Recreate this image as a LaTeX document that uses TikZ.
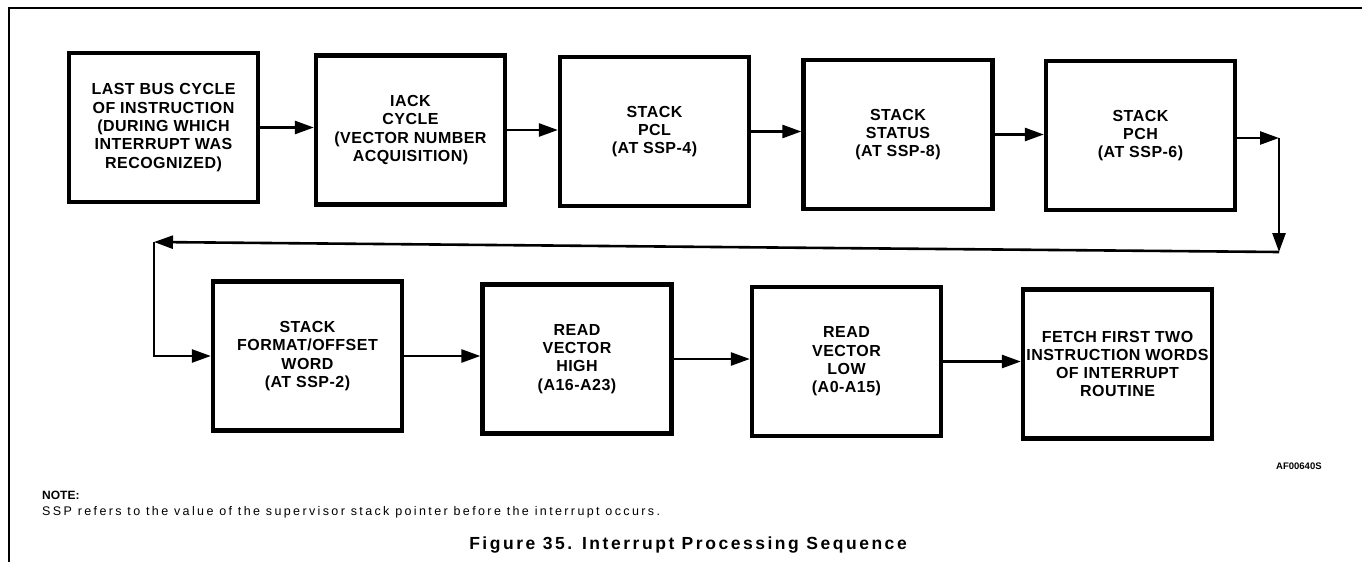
\documentclass[tikz,border=0pt]{standalone}
\usepackage{fontspec}
\setmainfont{Liberation Sans}
\newfontfamily\boxfont{Liberation Sans}[LetterSpace=3]
\newfontfamily\notefont{Liberation Sans}[LetterSpace=19]
\newfontfamily\titlefont{Liberation Sans}[LetterSpace=14.5]
\usetikzlibrary{arrows.meta}
\tikzset{
  stepbox/.style={draw, line width=4.3pt, minimum width=189pt, minimum height=149pt,
    inner sep=0pt, align=center, font=\boxfont\bfseries\fontsize{16}{18.3}\selectfont},
  arr/.style={line width=2.6pt, -{Triangle[length=19pt,width=13pt]}},
  frameline/.style={line width=1.4pt},
}
\begin{document}
\begin{tikzpicture}[x=1pt,y=-1pt]
\useasboundingbox[fill=white] (0,0) rectangle (1362,562);
% frame
\coordinate (ftl) at (9,8);
\coordinate (ftr) at (1362,8);
\coordinate (fbl) at (9,562);
\draw[frameline] (ftr) -- (ftl) -- (fbl);
% row 1
\node[stepbox] (b1) at (163.5,127.5) {LAST BUS CYCLE\\OF INSTRUCTION\\(DURING WHICH\\INTERRUPT WAS\\RECOGNIZED)};
\node[stepbox] (b2) at (410.5,130) {IACK\\CYCLE\\(VECTOR NUMBER\\ACQUISITION)};
\node[stepbox] (b3) at (654.5,131.5) {STACK\\PCL\\(AT SSP-4)};
\node[stepbox] (b4) at (898,134.5) {STACK\\STATUS\\(AT SSP-8)};
\node[stepbox] (b5) at (1140.5,135.5) {STACK\\PCH\\(AT SSP-6)};
% row 2
\node[stepbox] (b6) at (307.5,356) {STACK\\FORMAT/OFFSET\\WORD\\(AT SSP-2)};
\node[stepbox] (b7) at (577,359) {READ\\VECTOR\\HIGH\\(A16-A23)};
\node[stepbox] (b8) at (846.5,361.5) {READ\\VECTOR\\LOW\\(A0-A15)};
\node[stepbox] (b9) at (1117.5,364) {FETCH FIRST TWO\\INSTRUCTION WORDS\\OF INTERRUPT\\ROUTINE};
% connectors row 1
\draw[arr] (b1.east) -- (b1.east -| b2.west);
\draw[arr] (b2.east) -- (b2.east -| b3.west);
\draw[arr] (b3.east) -- (b3.east -| b4.west);
\draw[arr] (b4.east) -- (b4.east -| b5.west);
% return path
\coordinate (c1) at (1279,138);
\coordinate (c2) at (1279,252);
\coordinate (c3) at (154,242);
\draw[arr] (b5.east |- c1) -- (c1);
\draw[arr] (c1) -- (c2);
\draw[arr] (c2) -- (c3);
\draw[arr] (c3) -- (c3 |- b6.west) -- (b6.west);
% connectors row 2
\draw[arr] (b6.east) -- (b6.east -| b7.west);
\draw[arr] (b7.east) -- (b7.east -| b8.west);
\draw[arr] (b8.east) -- (b8.east -| b9.west);
% texts
\node[anchor=west, inner sep=0pt, font=\bfseries\fontsize{9.5}{10}\selectfont] (af) at (1276,466) {AF00640S};
\node[anchor=west, inner sep=0pt, font=\bfseries\fontsize{12}{13}\selectfont] (note) at (42,495) {NOTE:};
\node[anchor=west, inner sep=0pt, font=\notefont\fontsize{12.5}{13}\selectfont] (notetext) at (42,512) {SSP refers to the value of the supervisor stack pointer before the interrupt occurs.};
\node[inner sep=0pt, font=\titlefont\bfseries\fontsize{17.5}{19}\selectfont] (title) at (688,545) {Figure 35. Interrupt Processing Sequence};
\end{tikzpicture}
\end{document}
